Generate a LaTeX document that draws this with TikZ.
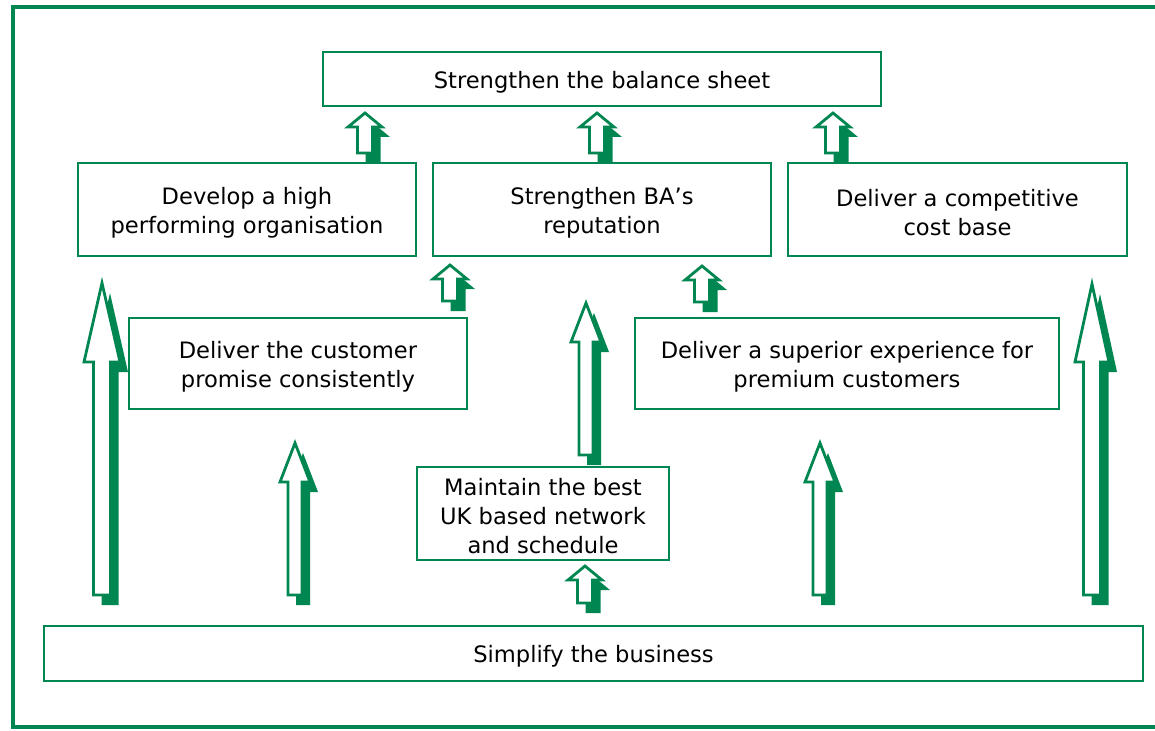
\documentclass[tikz,border=0pt]{standalone}
\usepackage{fontspec}
\setmainfont{DejaVu Sans}
\definecolor{bagreen}{RGB}{0,135,81}
\tikzset{
  goalbox/.style={draw=bagreen, line width=2.8pt, fill=white, inner sep=0pt},
  goaltext/.style={align=center, inner sep=0pt, yshift=-3pt,
    font=\fontsize{22.6}{29}\selectfont},
}
% Block arrow pointing up, with a solid offset shadow.
% #1 centre x, #2 tip y, #3 bottom y, #4 head length, #5 head half width, #6 shaft half width
\newcommand\blockarrow[6]{%
  \fill[bagreen, shift={(8,10)}]
    (#1-#6,#3) -- (#1-#6,#2+#4) -- (#1-#5,#2+#4) -- (#1,#2)
    -- (#1+#5,#2+#4) -- (#1+#6,#2+#4) -- (#1+#6,#3) -- cycle;
  \filldraw[fill=white, draw=bagreen, line width=2.8pt, line join=miter]
    (#1-#6,#3) -- (#1-#6,#2+#4) -- (#1-#5,#2+#4) -- (#1,#2)
    -- (#1+#5,#2+#4) -- (#1+#6,#2+#4) -- (#1+#6,#3) -- cycle;
}
% A goal: framed box plus its centred text
% #1 name, #2 centre, #3 width, #4 height, #5 text
\newcommand\goal[5]{%
  \node[goalbox, minimum width=#3pt, minimum height=#4pt] (#1) at (#2) {};
  \node[goaltext] (#1-text) at (#1.center) {#5};
}
\begin{document}
\begin{tikzpicture}[x=1pt, y=-1pt]
  \useasboundingbox (0,0) rectangle (1155,730);
  % outer frame
  \draw[bagreen, line width=3.2pt] (1175,7) -- (13,7) -- (13,727) -- (1175,727);

  % goals
  \goal{sheet}{602,79}{558}{54}{Strengthen the balance sheet}
  \goal{org}{247,209.5}{338}{93}{Develop a high\\performing organisation}
  \goal{rep}{602,209.5}{338}{93}{Strengthen BA’s\\reputation}
  \goal{cost}{957.5,209.5}{339}{93}{Deliver a competitive\\cost base}
  \goal{promise}{298,363.5}{338}{91}{Deliver the customer\\promise consistently}
  \goal{premium}{847,363.5}{424}{91}{Deliver a superior experience for\\premium customers}
  \goal{network}{543,513.5}{252}{93}{Maintain the best\\UK based network\\and schedule}
  \goal{simplify}{593.5,653.5}{1099}{55}{Simplify the business}

  % short arrows between goal rows
  \blockarrow{365}{113}{153}{14}{17}{7.5}
  \blockarrow{597}{113}{153}{14}{17}{7.5}
  \blockarrow{833}{113}{153}{14}{17}{7.5}
  \blockarrow{450}{265}{301}{14}{17}{7.5}
  \blockarrow{702}{266}{302}{14}{17}{7.5}
  \blockarrow{585}{566}{603}{14}{17}{7.5}

  % long arrows
  \blockarrow{102}{283}{595}{79}{18}{8.5}
  \blockarrow{295}{443}{595}{39}{15}{7}
  \blockarrow{586}{303}{455}{39}{15}{7}
  \blockarrow{820}{443}{595}{39}{15}{7}
  \blockarrow{1092}{284}{595}{78}{17}{8.5}
\end{tikzpicture}
\end{document}
